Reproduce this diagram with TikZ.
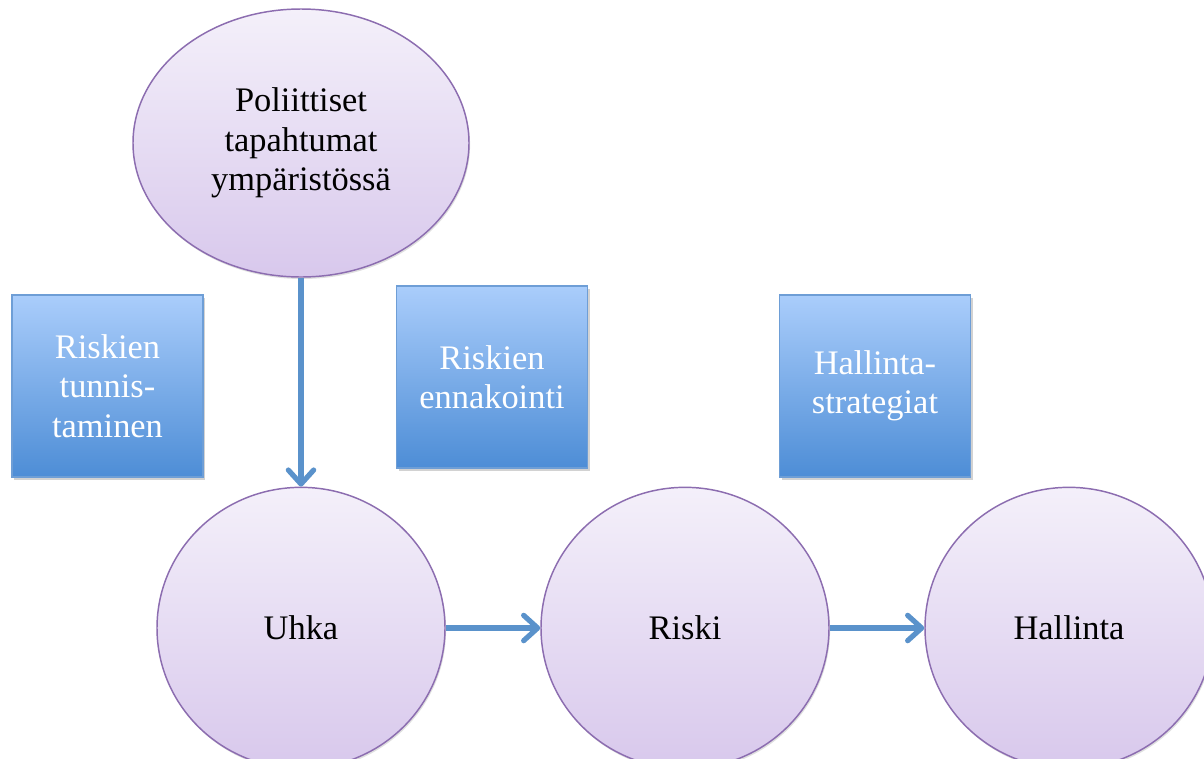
\documentclass[tikz,border=0pt]{standalone}
\usepackage{fontspec}
\setmainfont{Liberation Serif}
\usetikzlibrary{arrows.meta,shadows,shapes.geometric}
\definecolor{purpTop}{HTML}{F4F0FA}
\definecolor{purpBot}{HTML}{D8C8EC}
\definecolor{purpLine}{HTML}{8C6DB0}
\definecolor{blueTop}{HTML}{AACDFB}
\definecolor{blueBot}{HTML}{4D8DD6}
\definecolor{blueLine}{HTML}{6E9ED6}
\definecolor{arrowc}{HTML}{5A92CB}
\begin{document}
\begin{tikzpicture}[x=0.75pt,y=-0.75pt,
  txt/.style={font=\fontsize{25.8}{29.5}\selectfont, align=center},
  bubble/.style={txt, ellipse, draw=purpLine, line width=1.1pt, top color=purpTop, bottom color=purpBot, inner sep=0pt,
    drop shadow={shadow xshift=0.8pt, shadow yshift=-1.5pt, opacity=0.25}},
  circ/.style={bubble, minimum width=216pt, minimum height=211pt},
  boxnode/.style={txt, rectangle, draw=blueLine, line width=0.8pt, top color=blueTop, bottom color=blueBot, text=white,
    minimum width=143.25pt, minimum height=136.5pt, inner sep=0pt,
    drop shadow={shadow xshift=1.5pt, shadow yshift=-2pt, opacity=0.35}},
  link/.style={draw=arrowc, line width=3.9pt, -{Straight Barb[length=10.5pt,width=19pt,round]}}]
\useasboundingbox (0,0) rectangle (1204,758);
\clip (0,0) rectangle (1204,758);
\fill[white] (0,0) rectangle (1204,758);
\node[bubble, minimum width=252pt, minimum height=201pt] (pol) at (301,143) {Poliittiset\\tapahtumat\\ympäristössä};
\node[boxnode] (b1) at (107.5,386) {Riskien\\tunnis-\\taminen};
\node[boxnode] (b2) at (492,377) {Riskien\\ennakointi};
\node[boxnode] (b3) at (875,386) {Hallinta-\\strategiat};
\node[circ] (uhka) at (301,628) {Uhka};
\node[circ] (riski) at (685,628) {Riski};
\node[circ] (hall) at (1069,628) {Hallinta};
\draw[link] (pol.south) -- (uhka.north);
\draw[link] (uhka.east) -- (riski.west);
\draw[link] (riski.east) -- (hall.west);
\end{tikzpicture}
\end{document}
